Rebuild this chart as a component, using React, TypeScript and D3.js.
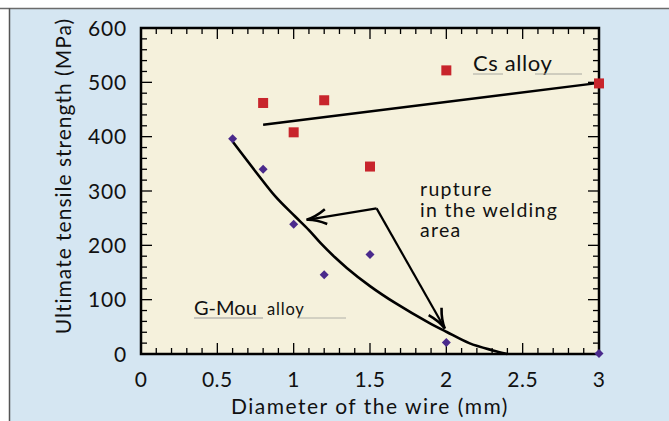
import React, { useEffect } from "react";
import * as d3 from "d3";

const csX = [0.8, 1.0, 1.2, 1.5, 2.0, 3.0];
const csY = [462, 408, 467, 345, 522, 498];
const csFitX = [0.8, 3.0];
const csFitY = [422, 499];
const gmX = [0.6, 0.8, 1.0, 1.2, 1.5, 2.0, 3.0];
const gmY = [396, 340, 239, 146, 183, 21, 1];
const gmCurveX = [0.6, 0.75, 0.88, 1.01, 1.1, 1.18, 1.27, 1.35, 1.5, 1.67, 1.89, 2.0, 2.15, 2.3, 2.4];
const gmCurveY = [391, 336, 290, 253, 228, 203, 178, 158, 125, 93, 57, 41, 20, 7, 0];
const xTicks = [0, 0.5, 1, 1.5, 2, 2.5, 3];
const xTickLabels = ["0", "0.5", "1", "1.5", "2", "2.5", "3"];
const yTicks = [0, 100, 200, 300, 400, 500, 600];
const arrowVertex = [1.543, 268];
const arrowTips = [[1.085, 247], [1.99, 47]];
const noteLines = ["rupture", "in the welding", "area"];

const W = 669, H = 421;
const PL = 141, PR = 599, PT = 28, PB = 354;
const FONT = "Lato, 'Open Sans', sans-serif";

export default function App() {
  useEffect(() => { document.body.style.margin = "0"; }, []);
  const x = d3.scaleLinear().domain([0, 3]).range([PL, PR]);
  const y = d3.scaleLinear().domain([0, 600]).range([PB, PT]);

  const minorX = d3.range(0, 31).map((i) => i / 10);
  const minorY = d3.range(0, 31).map((i) => i * 20);

  const curve = d3.line<number>()
    .x((_, i) => x(gmCurveX[i]))
    .y((_, i) => y(gmCurveY[i]))
    .curve(d3.curveMonotoneX)(gmCurveX.map((v) => v)) || "";

  const arrowHead = (tip: number[]) => {
    const tx = x(tip[0]), ty = y(tip[1]);
    const vx = x(arrowVertex[0]), vy = y(arrowVertex[1]);
    const ang = Math.atan2(vy - ty, vx - tx);
    const len = 21, spread = 0.36;
    const a1 = [tx + len * Math.cos(ang + spread), ty + len * Math.sin(ang + spread)];
    const a2 = [tx + len * Math.cos(ang - spread), ty + len * Math.sin(ang - spread)];
    const c1 = [tx + 9 * Math.cos(ang + 0.12), ty + 9 * Math.sin(ang + 0.12)];
    const c2 = [tx + 9 * Math.cos(ang - 0.12), ty + 9 * Math.sin(ang - 0.12)];
    return `M${a1[0]},${a1[1]}Q${c1[0]},${c1[1]} ${tx},${ty}Q${c2[0]},${c2[1]} ${a2[0]},${a2[1]}`;
  };

  return (
    <svg width={W} height={H} style={{ display: "block" }} fontFamily={FONT}>
      <rect x={0} y={0} width={W} height={H} fill="#ffffff" />
      <rect x={9} y={8} width={W - 9} height={H - 8} fill="#d5e6f2" />
      <line x1={0} y1={8.5} x2={W} y2={8.5} stroke="#6b6b6b" strokeWidth={1.5} />
      <line x1={9.5} y1={8} x2={9.5} y2={H} stroke="#555" strokeWidth={1.5} />
      <rect x={PL} y={PT} width={PR - PL} height={PB - PT} fill="#f5f1dc" />

      {minorX.map((v, i) => {
        const major = i % 5 === 0;
        const L = major ? 11 : 6;
        return (
          <g key={"tx" + i} stroke="#000" strokeWidth={1.3}>
            <line x1={x(v)} x2={x(v)} y1={PB} y2={PB - L} />
            <line x1={x(v)} x2={x(v)} y1={PT} y2={PT + L} />
          </g>
        );
      })}
      {minorY.map((v, i) => {
        const major = i % 5 === 0;
        const L = major ? 11 : 6;
        return (
          <g key={"ty" + i} stroke="#000" strokeWidth={1.3}>
            <line x1={PL} x2={PL + L} y1={y(v)} y2={y(v)} />
            <line x1={PR} x2={PR - L} y1={y(v)} y2={y(v)} />
          </g>
        );
      })}
      <rect x={PL} y={PT} width={PR - PL} height={PB - PT} fill="none" stroke="#000" strokeWidth={2.5} />

      {xTicks.map((v, i) => (
        <text key={"xl" + i} x={x(v)} y={PB + 33} textAnchor="middle" fontSize={21} letterSpacing={0.5} fill="#111">{xTickLabels[i]}</text>
      ))}
      {yTicks.map((v) => (
        <text key={"yl" + v} x={127} y={y(v) + 7.5} textAnchor="end" fontSize={21} letterSpacing={0.8} fill="#111">{v}</text>
      ))}

      <text x={370} y={414} textAnchor="middle" fontSize={21} letterSpacing={1.5} fill="#111">Diameter of the wire (mm)</text>
      <text transform={`translate(71,176) rotate(-90)`} textAnchor="middle" fontSize={21} letterSpacing={1.0} fill="#111">Ultimate tensile strength (MPa)</text>

      <line x1={x(csFitX[0])} y1={y(csFitY[0])} x2={x(csFitX[1])} y2={y(csFitY[1])} stroke="#000" strokeWidth={2.5} />
      <path d={curve} fill="none" stroke="#000" strokeWidth={2.6} />

      {arrowTips.map((t, i) => (
        <g key={"ar" + i} stroke="#000" fill="none" strokeLinejoin="miter">
          <line x1={x(arrowVertex[0])} y1={y(arrowVertex[1])} x2={x(t[0])} y2={y(t[1])} strokeWidth={2.2} />
          <path d={arrowHead(t)} strokeWidth={2.6} />
        </g>
      ))}

      {csX.map((v, i) => (
        <rect key={"cs" + i} x={x(v) - 5} y={y(csY[i]) - 5} width={10} height={10} fill="#c8252c" />
      ))}
      {gmX.map((v, i) => (
        <path key={"gm" + i} d={`M${x(v)},${y(gmY[i]) - 4.5}L${x(v) + 4.5},${y(gmY[i])}L${x(v)},${y(gmY[i]) + 4.5}L${x(v) - 4.5},${y(gmY[i])}Z`} fill="#4a2a8c" />
      ))}

      <text x={473} y={71} fontSize={22} letterSpacing={0.6} fill="#111">Cs alloy</text>
      <line x1={473} x2={503} y1={74} y2={74} stroke="#a8a8a0" strokeWidth={1} />
      <line x1={535} x2={582} y1={74} y2={74} stroke="#a8a8a0" strokeWidth={1} />

      <text x={194} y={315} fontSize={20} fill="#111">G-Mou</text>
      <text x={267} y={315} fontSize={16.5} letterSpacing={0.8} fill="#111">alloy</text>
      <line x1={194} x2={263} y1={318} y2={318} stroke="#999" strokeWidth={1} />
      <line x1={297} x2={346} y1={318} y2={318} stroke="#b0b0a8" strokeWidth={1} />

      <text x={420} y={196} fontSize={19.5} letterSpacing={1.3} fill="#111">
        {noteLines.map((t, i) => (
          <tspan key={"n" + i} x={420} dy={i === 0 ? 0 : 20.5}>{t}</tspan>
        ))}
      </text>
    </svg>
  );
}
